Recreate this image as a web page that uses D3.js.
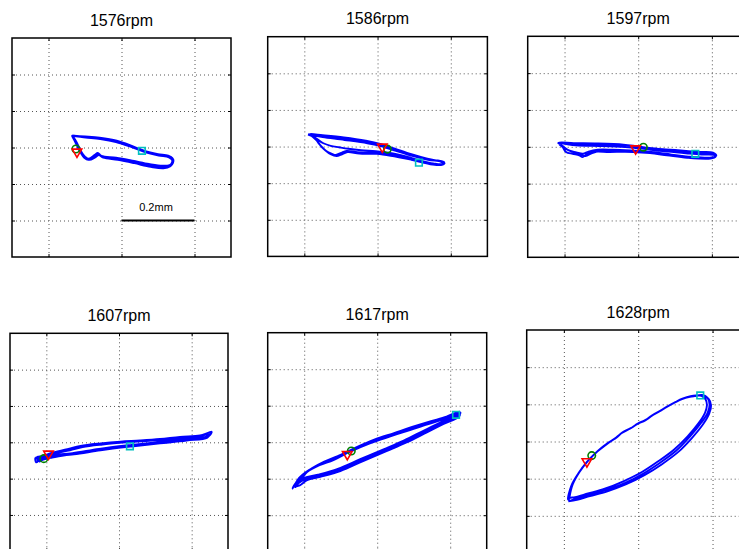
<!DOCTYPE html>
<html>
<head>
<meta charset="utf-8">
<script src="https://cdn.jsdelivr.net/npm/d3@7/dist/d3.min.js"></script>
<style>
  body { margin: 0; background: #fff; }
  svg { display: block; }
  text { font-family: Arial, "Liberation Sans", sans-serif; }
</style>
</head>
<body>
<svg id="orbits"></svg>
<script>
// shaft orbit plots, one per speed (x / y displacement in mm)
var speeds = ["1576rpm", "1586rpm", "1597rpm", "1607rpm", "1617rpm", "1628rpm"];
var xTicks = [-0.2, 0, 0.2];
var yTicks = [-0.2, -0.1, 0, 0.1, 0.2];
var axisRange = [-0.3, 0.3];
var scaleBar = [0, 0.2];   // mm, drawn at y = -0.2 in the first panel
var scaleBarLabel = "0.2mm";

var orbit1576 = [
  [[-0.136,0.032],[-0.100,0.030],[-0.060,0.027],[-0.013,0.019],[0.030,0.004],[0.065,-0.010],[0.100,-0.018],[0.128,-0.022],[0.140,-0.030],[0.140,-0.040],[0.132,-0.048],[0.112,-0.050],[0.075,-0.045],[0.030,-0.036],[-0.015,-0.028],[-0.055,-0.023],[-0.065,-0.015],[-0.073,-0.020],[-0.090,-0.031],[-0.100,-0.025],[-0.110,-0.012],[-0.119,0.004],[-0.128,0.022],[-0.134,0.030]],
  [[-0.133,0.031],[-0.098,0.027],[-0.058,0.023],[-0.015,0.015],[0.028,0.001],[0.066,-0.013],[0.102,-0.022],[0.130,-0.027],[0.139,-0.035],[0.137,-0.044],[0.127,-0.053],[0.105,-0.054],[0.070,-0.049],[0.028,-0.040],[-0.018,-0.032],[-0.052,-0.026],[-0.063,-0.018],[-0.075,-0.024],[-0.091,-0.034],[-0.102,-0.028],[-0.112,-0.014],[-0.121,0.003],[-0.129,0.020],[-0.135,0.031]],
  [[-0.135,0.032],[-0.095,0.029],[-0.055,0.025],[-0.010,0.017],[0.032,0.002],[0.068,-0.011],[0.104,-0.019],[0.133,-0.025],[0.142,-0.033],[0.141,-0.042],[0.134,-0.051],[0.115,-0.057],[0.080,-0.053],[0.035,-0.043],[-0.010,-0.034],[-0.050,-0.028],[-0.062,-0.021],[-0.072,-0.027],[-0.088,-0.034],[-0.099,-0.028],[-0.108,-0.015],[-0.116,0.000],[-0.125,0.018],[-0.133,0.030]]
];
var orbit1586 = [
  [[-0.190,0.033],[-0.153,0.029],[-0.094,0.022],[-0.030,0.013],[0.002,0.006],[0.043,-0.008],[0.088,-0.023],[0.134,-0.035],[0.171,-0.039],[0.182,-0.043],[0.175,-0.048],[0.152,-0.046],[0.088,-0.032],[0.034,-0.021],[-0.003,-0.017],[-0.048,-0.016],[-0.085,-0.012],[-0.099,-0.017],[-0.114,-0.023],[-0.126,-0.019],[-0.140,-0.012],[-0.153,-0.001],[-0.163,0.013],[-0.172,0.027],[-0.185,0.033]],
  [[-0.185,0.034],[-0.150,0.031],[-0.092,0.025],[-0.032,0.016],[0.004,0.008],[0.045,-0.005],[0.090,-0.020],[0.136,-0.033],[0.172,-0.041],[0.180,-0.046],[0.170,-0.050],[0.140,-0.045],[0.085,-0.029],[0.030,-0.017],[-0.005,-0.013],[-0.045,-0.010],[-0.080,-0.006],[-0.105,-0.002],[-0.128,0.002],[-0.148,0.009],[-0.166,0.021],[-0.180,0.031]],
  [[-0.188,0.032],[-0.150,0.026],[-0.090,0.018],[-0.028,0.009],[0.006,0.002],[0.048,-0.011],[0.092,-0.025],[0.138,-0.036],[0.174,-0.041],[0.183,-0.045],[0.176,-0.050],[0.150,-0.049],[0.092,-0.036],[0.036,-0.025],[-0.002,-0.020],[-0.050,-0.019],[-0.082,-0.015],[-0.097,-0.021],[-0.112,-0.026],[-0.128,-0.021],[-0.143,-0.010],[-0.156,0.003],[-0.168,0.018],[-0.180,0.029],[-0.190,0.033]]
];
var orbit1597 = [
  [[-0.219,0.010],[-0.178,0.008],[-0.105,0.007],[-0.032,0.004],[-0.004,0.000],[0.032,-0.005],[0.078,-0.010],[0.133,-0.014],[0.169,-0.017],[0.205,-0.019],[0.210,-0.027],[0.196,-0.032],[0.133,-0.030],[0.078,-0.023],[0.032,-0.017],[-0.014,-0.014],[-0.078,-0.014],[-0.123,-0.014],[-0.141,-0.021],[-0.151,-0.028],[-0.160,-0.023],[-0.178,-0.019],[-0.196,-0.014],[-0.205,-0.001],[-0.214,0.007]],
  [[-0.212,0.009],[-0.170,0.004],[-0.100,0.002],[-0.035,-0.001],[0.000,-0.004],[0.035,-0.008],[0.080,-0.013],[0.135,-0.018],[0.172,-0.021],[0.207,-0.023],[0.208,-0.029],[0.190,-0.030],[0.130,-0.026],[0.075,-0.019],[0.030,-0.013],[-0.020,-0.010],[-0.070,-0.008],[-0.110,-0.008],[-0.135,-0.013],[-0.150,-0.019],[-0.168,-0.015],[-0.190,-0.009],[-0.205,0.002],[-0.215,0.009]],
  [[-0.216,0.011],[-0.175,0.010],[-0.110,0.009],[-0.040,0.006],[-0.006,0.002],[0.030,-0.003],[0.075,-0.007],[0.130,-0.011],[0.168,-0.014],[0.203,-0.016],[0.212,-0.024],[0.200,-0.029],[0.138,-0.027],[0.082,-0.021],[0.035,-0.015],[-0.010,-0.012],[-0.060,-0.011],[-0.100,-0.011],[-0.125,-0.017],[-0.143,-0.025],[-0.158,-0.020],[-0.180,-0.013],[-0.198,-0.005],[-0.212,0.006]]
];
var orbit1607 = [
  [[-0.226,-0.040],[-0.205,-0.036],[-0.188,-0.030],[-0.142,-0.019],[-0.106,-0.010],[-0.051,-0.003],[0.004,0.002],[0.058,0.005],[0.113,0.009],[0.168,0.015],[0.223,0.019],[0.252,0.027],[0.243,0.013],[0.186,0.005],[0.113,-0.003],[0.040,-0.011],[-0.051,-0.022],[-0.124,-0.033],[-0.188,-0.039],[-0.215,-0.046],[-0.228,-0.055],[-0.230,-0.043]],
  [[-0.222,-0.044],[-0.200,-0.038],[-0.180,-0.031],[-0.135,-0.022],[-0.100,-0.013],[-0.045,-0.006],[0.010,-0.001],[0.065,0.003],[0.120,0.007],[0.175,0.012],[0.226,0.017],[0.246,0.024],[0.238,0.015],[0.180,0.009],[0.110,0.001],[0.035,-0.007],[-0.055,-0.018],[-0.128,-0.030],[-0.190,-0.036],[-0.218,-0.042],[-0.224,-0.052],[-0.226,-0.041]],
  [[-0.228,-0.042],[-0.210,-0.039],[-0.192,-0.033],[-0.150,-0.024],[-0.110,-0.014],[-0.055,-0.006],[0.000,0.000],[0.055,0.003],[0.110,0.006],[0.165,0.012],[0.220,0.016],[0.255,0.029],[0.247,0.017],[0.190,0.008],[0.118,0.000],[0.045,-0.008],[-0.045,-0.019],[-0.120,-0.031],[-0.184,-0.042],[-0.212,-0.049],[-0.220,-0.054]]
];
var orbit1617 = [
  [[-0.228,-0.122],[-0.215,-0.099],[-0.187,-0.076],[-0.151,-0.058],[-0.114,-0.044],[-0.068,-0.021],[-0.014,0.002],[0.041,0.020],[0.096,0.038],[0.141,0.052],[0.187,0.066],[0.228,0.081],[0.219,0.070],[0.178,0.052],[0.132,0.029],[0.078,0.002],[0.023,-0.021],[-0.041,-0.048],[-0.105,-0.076],[-0.160,-0.092],[-0.196,-0.101],[-0.215,-0.112],[-0.224,-0.123]],
  [[-0.218,-0.115],[-0.205,-0.093],[-0.178,-0.071],[-0.145,-0.053],[-0.108,-0.038],[-0.062,-0.016],[-0.008,0.007],[0.046,0.025],[0.100,0.043],[0.145,0.057],[0.190,0.070],[0.225,0.084],[0.215,0.073],[0.175,0.055],[0.128,0.032],[0.074,0.005],[0.019,-0.019],[-0.045,-0.046],[-0.108,-0.073],[-0.162,-0.089],[-0.200,-0.098],[-0.222,-0.110],[-0.232,-0.127]],
  [[-0.226,-0.116],[-0.210,-0.103],[-0.192,-0.082],[-0.158,-0.063],[-0.120,-0.049],[-0.074,-0.026],[-0.020,-0.003],[0.036,0.016],[0.092,0.034],[0.138,0.049],[0.184,0.063],[0.226,0.077],[0.222,0.068],[0.182,0.050],[0.136,0.027],[0.082,0.000],[0.027,-0.024],[-0.037,-0.051],[-0.101,-0.079],[-0.156,-0.095],[-0.192,-0.104],[-0.212,-0.118],[-0.228,-0.122]]
];
var orbit1628 = [
  [[-0.188,-0.153],[-0.178,-0.117],[-0.160,-0.084],[-0.137,-0.054],[-0.110,-0.027],[-0.081,-0.004],[-0.060,0.010],[-0.043,0.024],[-0.020,0.036],[-0.003,0.047],[0.020,0.058],[0.037,0.070],[0.058,0.082],[0.078,0.094],[0.100,0.106],[0.119,0.115],[0.140,0.121],[0.153,0.123],[0.172,0.125],[0.186,0.118],[0.192,0.099],[0.187,0.078],[0.170,0.051],[0.139,0.013],[0.102,-0.025],[0.059,-0.057],[0.014,-0.086],[-0.035,-0.111],[-0.086,-0.130],[-0.132,-0.143],[-0.167,-0.154],[-0.186,-0.159]],
  [[-0.185,-0.150],[-0.176,-0.115],[-0.158,-0.082],[-0.135,-0.052],[-0.108,-0.025],[-0.080,-0.003],[-0.058,0.011],[-0.042,0.025],[-0.018,0.037],[-0.001,0.048],[0.022,0.059],[0.039,0.071],[0.060,0.083],[0.080,0.095],[0.102,0.107],[0.121,0.116],[0.141,0.122],[0.155,0.124],[0.170,0.123],[0.181,0.114],[0.185,0.098],[0.180,0.078],[0.163,0.050],[0.133,0.014],[0.096,-0.022],[0.054,-0.053],[0.010,-0.082],[-0.040,-0.107],[-0.090,-0.127],[-0.135,-0.140],[-0.170,-0.150],[-0.185,-0.152]],
  [[-0.189,-0.156],[-0.180,-0.119],[-0.161,-0.086],[-0.138,-0.055],[-0.111,-0.028],[-0.082,-0.005],[-0.061,0.009],[-0.044,0.023],[-0.021,0.035],[-0.004,0.046],[0.019,0.057],[0.036,0.069],[0.057,0.081],[0.077,0.093],[0.099,0.105],[0.118,0.114],[0.139,0.120],[0.152,0.122],[0.170,0.124],[0.189,0.115],[0.196,0.097],[0.191,0.075],[0.175,0.047],[0.145,0.010],[0.108,-0.028],[0.064,-0.061],[0.018,-0.090],[-0.032,-0.115],[-0.083,-0.134],[-0.130,-0.147],[-0.165,-0.157],[-0.188,-0.161]]
];
var orbits = [orbit1576, orbit1586, orbit1597, orbit1607, orbit1617, orbit1628];

// key-phasor style markers, one per panel
var triangleMarks = [[-0.122,-0.012],[0.013,-0.001],[-0.007,-0.005],[-0.194,-0.032],[-0.082,-0.033],[-0.138,-0.054]];
var circleMarks   = [[-0.125,-0.004],[0.027,-0.007],[0.014,-0.001],[-0.207,-0.045],[-0.071,-0.024],[-0.125,-0.038]];
var squareMarks   = [[0.056,-0.009],[0.113,-0.044],[0.155,-0.019],[0.030,-0.011],[0.216,0.075],[0.167,0.124]];

// where each axes box sits on the page
var boxes = [
  {left: 12, top: 38, size: 219},
  {left: 267.7, top: 36.7, size: 219.7},
  {left: 527.7, top: 36.3, size: 221},
  {left: 10, top: 333.3, size: 218},
  {left: 267.7, top: 332.7, size: 219},
  {left: 526.7, top: 330, size: 223}
];

var width = 739, height = 549;
var svg = d3.select('#orbits').attr('width', width).attr('height', height);
svg.append('rect').attr('width', width).attr('height', height).attr('fill', '#fff');

boxes.forEach(function (b, i) {
  var x = d3.scaleLinear().domain(axisRange).range([0, b.size]);
  var y = d3.scaleLinear().domain(axisRange).range([b.size, 0]);
  var g = svg.append('g').attr('transform', 'translate(' + b.left + ',' + b.top + ')');

  // dotted grid
  var gx = g.append('g').attr('transform', 'translate(0,' + b.size + ')')
    .call(d3.axisBottom(x).tickValues(xTicks).tickSize(-b.size).tickFormat(''));
  var gy = g.append('g')
    .call(d3.axisLeft(y).tickValues(yTicks).tickSize(-b.size).tickFormat(''));
  [gx, gy].forEach(function (a) {
    a.select('.domain').remove();
    a.selectAll('line').attr('stroke', '#555').attr('stroke-dasharray', '1,3').attr('stroke-width', 1);
  });

  // inward tick marks on all four sides
  var tl = 3;
  [
    [d3.axisBottom(x).tickValues(xTicks), 'translate(0,' + b.size + ')'],
    [d3.axisTop(x).tickValues(xTicks), 'translate(0,0)'],
    [d3.axisLeft(y).tickValues(yTicks), 'translate(0,0)'],
    [d3.axisRight(y).tickValues(yTicks), 'translate(' + b.size + ',0)']
  ].forEach(function (d) {
    var a = g.append('g').attr('transform', d[1])
      .call(d[0].tickSize(-tl).tickSizeOuter(0).tickFormat(''));
    a.select('.domain').remove();
    a.selectAll('line').attr('stroke', '#000').attr('stroke-width', 1);
  });

  g.append('rect')
    .attr('width', b.size).attr('height', b.size)
    .attr('fill', 'none').attr('stroke', '#000').attr('stroke-width', 1.5);

  // orbit trace
  var line = d3.line()
    .x(function (d) { return x(d[0]); })
    .y(function (d) { return y(d[1]); })
    .curve(d3.curveCatmullRom.alpha(0.5));
  g.append('path')
    .datum(d3.merge(orbits[i]))
    .attr('d', line)
    .attr('fill', 'none')
    .attr('stroke', '#0000ff')
    .attr('stroke-width', 1.9)
    .attr('stroke-linejoin', 'round');

  // markers
  g.append('path')
    .attr('d', d3.symbol(d3.symbolCircle, 44)())
    .attr('transform', 'translate(' + x(circleMarks[i][0]) + ',' + y(circleMarks[i][1]) + ')')
    .attr('fill', 'none').attr('stroke', '#008000').attr('stroke-width', 1.6);
  g.append('path')
    .attr('d', d3.symbol(d3.symbolTriangle, 40)())
    .attr('transform', 'translate(' + x(triangleMarks[i][0]) + ',' + y(triangleMarks[i][1]) + ') rotate(180)')
    .attr('fill', 'none').attr('stroke', '#ff0000').attr('stroke-width', 1.6);
  g.append('path')
    .attr('d', d3.symbol(d3.symbolSquare, 44)())
    .attr('transform', 'translate(' + x(squareMarks[i][0]) + ',' + y(squareMarks[i][1]) + ')')
    .attr('fill', 'none').attr('stroke', '#00c0c0').attr('stroke-width', 1.6);

  // title
  svg.append('text')
    .attr('x', b.left + b.size / 2)
    .attr('y', b.top - 12.5)
    .attr('text-anchor', 'middle')
    .attr('font-size', 16)
    .attr('fill', '#000')
    .text(speeds[i]);

  // scale bar in the first panel
  if (i === 0) {
    g.append('line')
      .attr('x1', x(scaleBar[0])).attr('x2', x(scaleBar[1]))
      .attr('y1', y(-0.2)).attr('y2', y(-0.2))
      .attr('stroke', '#000').attr('stroke-width', 2);
    g.append('text')
      .attr('x', (x(scaleBar[0]) + x(scaleBar[1])) / 2 - 2)
      .attr('y', y(-0.2) - 10)
      .attr('text-anchor', 'middle')
      .attr('font-size', 11)
      .text(scaleBarLabel);
  }
});
</script>
</body>
</html>
